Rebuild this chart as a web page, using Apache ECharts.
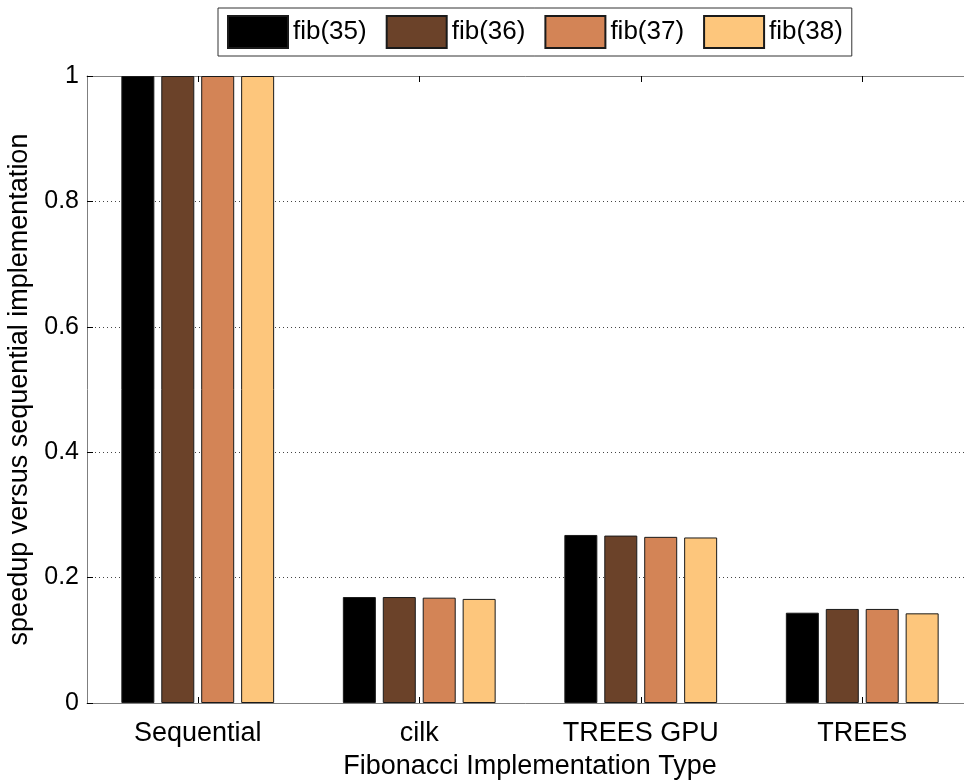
<!DOCTYPE html>
<html>
<head>
<meta charset="utf-8">
<script src="https://cdn.jsdelivr.net/npm/echarts@6/dist/echarts.min.js"></script>
<style>
  html, body { margin: 0; padding: 0; background: #fff; }
  #chart { width: 964px; height: 781px; }
</style>
</head>
<body>
<div id="chart"></div>
<script>
// Speedup of each Fibonacci implementation relative to the sequential one
const categories = ['Sequential', 'cilk', 'TREES GPU', 'TREES'];
const seriesNames = ['fib(35)', 'fib(36)', 'fib(37)', 'fib(38)'];
const fib35 = [1.0, 0.169, 0.268, 0.144];
const fib36 = [1.0, 0.169, 0.267, 0.150];
const fib37 = [1.0, 0.168, 0.265, 0.150];
const fib38 = [1.0, 0.166, 0.264, 0.143];
const yTicks = [0, 0.2, 0.4, 0.6, 0.8, 1];
const colors = ['#000000', '#6b4229', '#d38456', '#fdc67c'];

const seriesValues = [fib35, fib36, fib37, fib38];
const font = 'Liberation Sans, Arial, Helvetica, sans-serif';

const chart = echarts.init(document.getElementById('chart'), null, { renderer: 'canvas' });

const xAxisBase = {
  type: 'category',
  data: categories,
  axisLine: { show: true, onZero: false, lineStyle: { color: '#7f7f7f', width: 1 } },
  axisTick: { show: true, inside: true, alignWithLabel: true, length: 6, lineStyle: { color: '#000' } },
  splitLine: { show: false }
};

const yAxisBase = {
  type: 'value',
  min: 0,
  max: 1,
  interval: 0.2,
  axisLine: { show: true, onZero: false, lineStyle: { color: '#7f7f7f', width: 1 } },
  axisTick: { show: true, inside: true, length: 6, lineStyle: { color: '#000' } }
};

chart.setOption({
  animation: false,
  backgroundColor: '#ffffff',
  textStyle: { fontFamily: font },
  grid: { left: 87, right: -9, top: 76, bottom: 78, containLabel: false, outerBoundsMode: 'none' },
  legend: {
    data: seriesNames,
    icon: 'rect',
    left: 218,
    top: 8,
    orient: 'horizontal',
    itemWidth: 60,
    itemHeight: 32,
    itemGap: 19,
    padding: [7, 9, 7, 9],
    borderColor: '#333',
    borderWidth: 1,
    backgroundColor: '#fff',
    textStyle: { fontSize: 26, color: '#000', fontFamily: font },
    selectedMode: false
  },
  xAxis: [
    Object.assign({}, xAxisBase, {
      position: 'bottom',
      axisLabel: { fontSize: 27, color: '#000', margin: 17, fontFamily: font },
      name: 'Fibonacci Implementation Type',
      nameLocation: 'middle',
      nameGap: 50,
      nameTextStyle: { fontSize: 27, color: '#000', fontFamily: font }
    }),
    Object.assign({}, xAxisBase, {
      position: 'top',
      axisLabel: { show: false }
    })
  ],
  yAxis: [
    Object.assign({}, yAxisBase, {
      position: 'left',
      axisLabel: {
        fontSize: 25, color: '#000', margin: 8, fontFamily: font,
        formatter: function (v) {
          const t = yTicks.find(function (k) { return Math.abs(k - v) < 1e-9; });
          return t === undefined ? '' : String(t);
        }
      },
      splitLine: { show: true, lineStyle: { color: '#444', type: [1, 3], width: 1 } },
      name: 'speedup versus sequential implementation',
      nameLocation: 'middle',
      nameGap: 53,
      nameTextStyle: { fontSize: 27, color: '#000', fontFamily: font }
    }),
    Object.assign({}, yAxisBase, {
      position: 'right',
      axisLabel: { show: false },
      splitLine: { show: false }
    })
  ],
  series: seriesNames.map(function (name, i) {
    return {
      name: name,
      type: 'bar',
      xAxisIndex: 0,
      yAxisIndex: 0,
      data: seriesValues[i],
      barWidth: 33,
      barGap: '21%',
      itemStyle: { color: colors[i], borderColor: '#1a1a1a', borderWidth: 1 }
    };
  })
});
</script>
</body>
</html>
